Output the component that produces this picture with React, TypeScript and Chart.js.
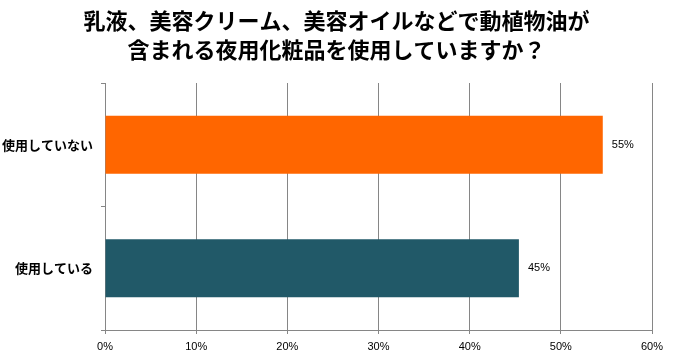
import React, { useEffect, useRef } from "react";
import { Chart, registerables } from "chart.js";

Chart.register(...registerables);

const titleLines = [
  "乳液、美容クリーム、美容オイルなどで動植物油が",
  "含まれる夜用化粧品を使用していますか？",
];
const categories = ["使用していない", "使用している"];
const values = [54.6, 45.4];
const valueLabels = ["55%", "45%"];
const barColors = ["#FF6600", "#215968"];
const axisMax = 60;
const axisStep = 10;

const CJK = "'Noto Sans CJK JP', 'Noto Sans', sans-serif";
const NUM = "'Liberation Sans', 'DejaVu Sans', sans-serif";
const GRID = "#868686";

const valueLabelPlugin = {
  id: "valueLabels",
  afterDatasetsDraw(chart: any) {
    const ctx = chart.ctx;
    const meta = chart.getDatasetMeta(0);
    ctx.save();
    ctx.font = `11px ${NUM}`;
    ctx.fillStyle = "#000";
    ctx.textAlign = "left";
    ctx.textBaseline = "middle";
    meta.data.forEach((el: any, i: number) => {
      ctx.fillText(valueLabels[i], el.x + 9, el.y);
    });
    ctx.restore();
  },
};

const TITLE_FIRST_Y = 21;
const TITLE_LINE_GAP = 28.5;

const centeredTitlePlugin = {
  id: "centeredTitle",
  afterDraw(chart: any) {
    const ctx = chart.ctx;
    ctx.save();
    ctx.font = `bold 22px ${CJK}`;
    ctx.fillStyle = "#000";
    ctx.textAlign = "center";
    ctx.textBaseline = "middle";
    titleLines.forEach((line, i) => {
      ctx.fillText(line, chart.width / 2, TITLE_FIRST_Y + i * TITLE_LINE_GAP);
    });
    ctx.restore();
  },
};

export default function App() {
  const ref = useRef<HTMLCanvasElement>(null);
  useEffect(() => {
    if (!ref.current) return;
    const chart = new Chart(ref.current, {
      type: "bar",
      data: {
        labels: categories,
        datasets: [
          {
            data: values,
            backgroundColor: barColors,
            borderWidth: 0,
            barPercentage: 0.47,
            categoryPercentage: 1,
          },
        ],
      },
      options: {
        indexAxis: "y",
        animation: false,
        responsive: false,
        devicePixelRatio: 1,
        layout: { padding: { left: 0, right: 21, top: 83, bottom: 0 } },
        plugins: {
          legend: { display: false },
          tooltip: { enabled: false },
          title: { display: false },
        },
        scales: {
          x: {
            min: 0,
            max: axisMax,
            ticks: {
              stepSize: axisStep,
              color: "#000",
              font: { family: NUM, size: 11 },
              padding: 6,
              callback: (v: any) => `${v}%`,
            },
            grid: {
              color: GRID,
              lineWidth: 1,
              drawTicks: true,
              tickLength: 4,
            },
            border: { color: GRID, width: 1 },
            afterFit: (s: any) => {
              s.height = 29;
            },
          },
          y: {
            ticks: {
              color: "#000",
              font: { family: CJK, size: 13, weight: "bold" },
              padding: 8,
            },
            grid: {
              color: GRID,
              drawOnChartArea: false,
              drawTicks: true,
              tickLength: 4,
              offset: true,
            },
            border: { color: GRID, width: 1 },
            afterFit: (s: any) => {
              s.width = 105;
            },
          },
        },
      },
      plugins: [valueLabelPlugin, centeredTitlePlugin],
    });
    return () => chart.destroy();
  }, []);
  return (
    <div style={{ position: "absolute", left: 0, top: 0, width: 673, height: 359, background: "#fff" }}>
      <canvas ref={ref} width={673} height={359} />
    </div>
  );
}
